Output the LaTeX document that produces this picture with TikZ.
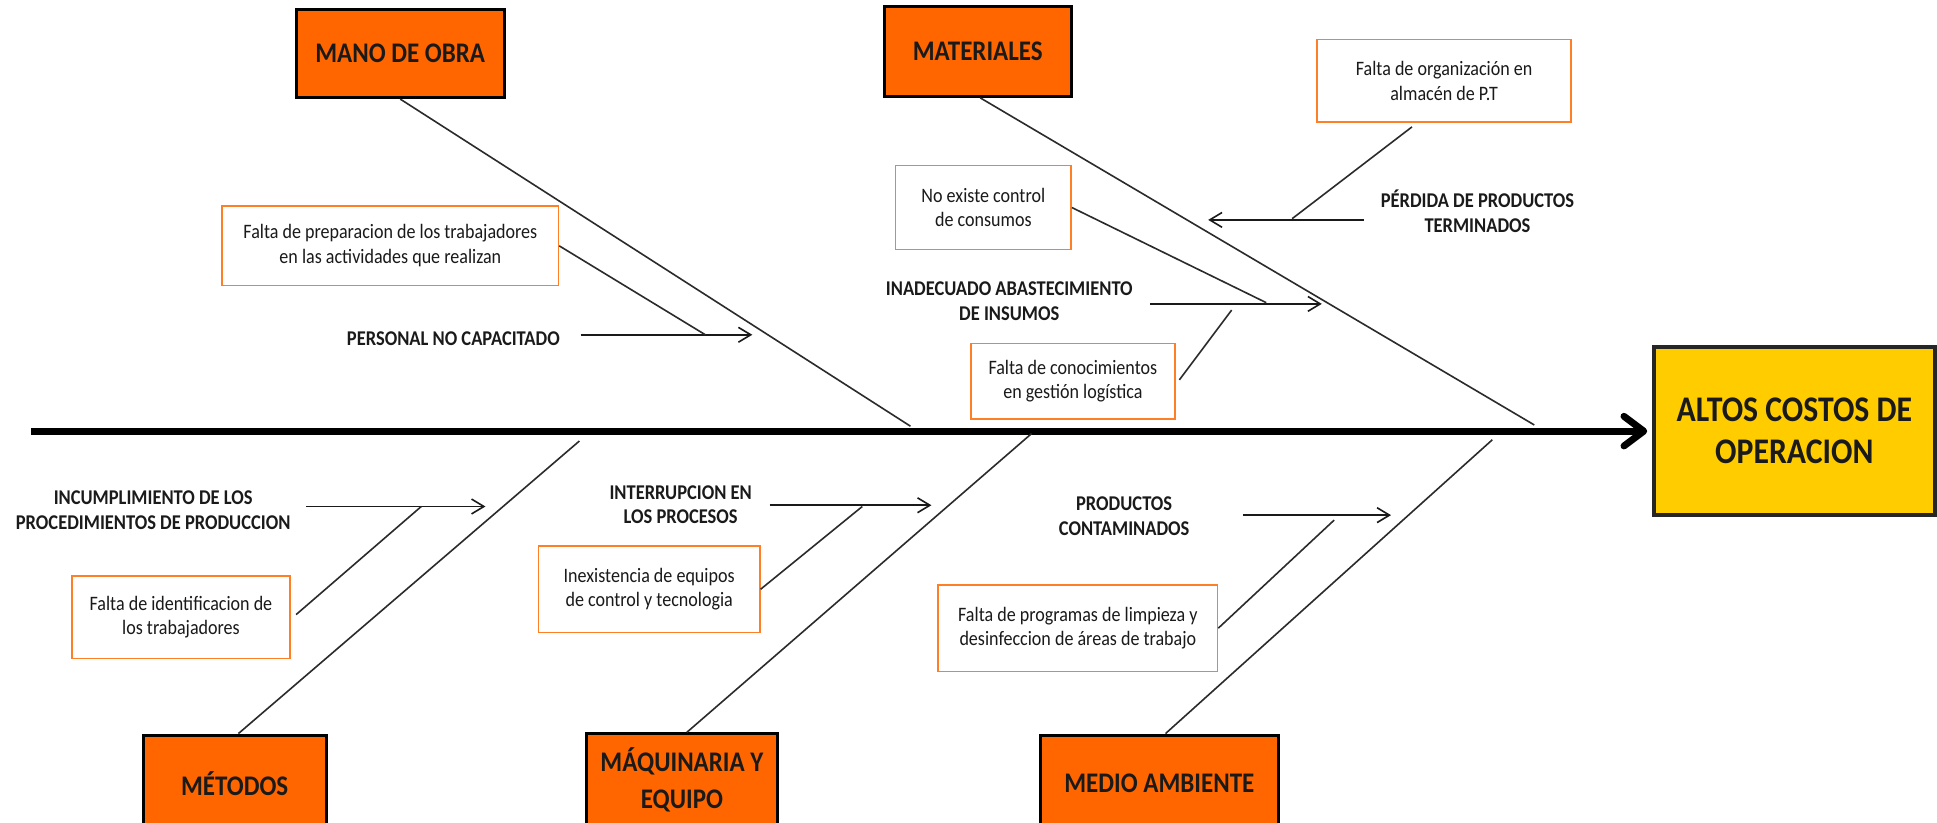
\documentclass[tikz,border=0pt]{standalone}
\usepackage{fontspec}
\setmainfont{Carlito}[FakeStretch=0.88]
\usetikzlibrary{arrows.meta,calc}
\definecolor{catorange}{HTML}{FF6600}
\definecolor{boxorange}{HTML}{FF7F27}
\definecolor{effyellow}{HTML}{FFCC00}
\definecolor{effborder}{HTML}{262626}
\definecolor{ink}{HTML}{1A1A1A}
\definecolor{boneclr}{HTML}{2B2B2B}
\begin{document}
\begin{tikzpicture}[x=0.5pt,y=-0.5pt,
  catbox/.style={draw=black,line width=1.2pt,fill=catorange,inner sep=0pt,align=center,font=\fontsize{11.5}{15}\selectfont\bfseries,text=ink},
  effbox/.style={draw=effborder,line width=1.6pt,fill=effyellow,inner sep=0pt,align=center,font=\fontsize{14.6}{17}\selectfont\bfseries,text=ink},
  causebox/.style={draw=boxorange,line width=0.7pt,fill=white,inner sep=0pt,align=center,font=\fontsize{8.3}{10}\selectfont,text=ink},
  sublabel/.style={inner sep=0pt,align=center,font=\fontsize{8.5}{10}\selectfont\bfseries,text=ink},
  bone/.style={draw=boneclr,line width=0.65pt},
  feeder/.style={draw=boneclr,line width=0.65pt},
  subarrow/.style={draw=ink,line width=0.65pt,-{Straight Barb[length=5pt,width=6pt]}},
  spine/.style={draw=black,line width=2.8pt,-{Straight Barb[length=8pt,width=12pt,line cap=round,line join=round]}}
]
\useasboundingbox (0,0) rectangle (1568,666);
\clip (0,0) rectangle (1568,666);

% effect
\node[effbox,minimum width=113.5pt,minimum height=68pt] (eff) at (1452.5,349) {ALTOS COSTOS DE\\OPERACION};

% categories
\node[catbox,minimum width=84pt,minimum height=35.5pt] (mano) at (324,43.5) {MANO DE OBRA};
\node[catbox,minimum width=75.5pt,minimum height=36.5pt] (mat) at (791.5,41.5) {MATERIALES};
\node[catbox,minimum width=74pt,minimum height=39pt] (met) at (190,634) {MÉTODOS};
\node[catbox,minimum width=77pt,minimum height=37pt] (maq) at (552,631) {MÁQUINARIA Y\\EQUIPO};
\node[catbox,minimum width=96.5pt,minimum height=39pt] (med) at (938.5,634) {MEDIO AMBIENTE};

% cause boxes
\node[causebox,minimum width=136pt,minimum height=32pt] (prep) at (316,199) {Falta de preparacion de los trabajadores\\en las actividades que realizan};
\node[causebox,minimum width=71pt,minimum height=34pt] (cons) at (796,168) {No existe control\\de consumos};
\node[causebox,minimum width=82.5pt,minimum height=30.5pt] (conoc) at (868.5,308.5) {Falta de conocimientos\\en gestión logística};
\node[causebox,minimum width=103pt,minimum height=33.5pt] (org) at (1169,65.5) {Falta de organización en\\almacén de P.T};
\node[causebox,minimum width=88.5pt,minimum height=33.5pt] (ident) at (146.5,499.5) {Falta de identificacion de\\los trabajadores};
\node[causebox,minimum width=89.5pt,minimum height=35pt] (inex) at (525.5,477) {Inexistencia de equipos\\de control y tecnologia};
\node[causebox,minimum width=113pt,minimum height=35pt] (limp) at (872.5,508.5) {Falta de programas de limpieza y\\desinfeccion de áreas de trabajo};

% sub-cause labels
\node[sublabel] (pers) at (367,274) {PERSONAL NO CAPACITADO};
\node[sublabel] (inad) at (817,244) {INADECUADO ABASTECIMIENTO\\DE INSUMOS};
\node[sublabel] (perd) at (1196,171) {PÉRDIDA DE PRODUCTOS\\TERMINADOS};
\node[sublabel] (incu) at (124,413) {INCUMPLIMIENTO DE LOS\\PROCEDIMIENTOS DE PRODUCCION};
\node[sublabel] (inte) at (551,408.5) {INTERRUPCION EN\\LOS PROCESOS};
\node[sublabel] (prod) at (910,418) {PRODUCTOS\\CONTAMINADOS};

% spine
\coordinate (spst) at (25,349);
\draw[spine,shorten >=2pt] (spst) -- (eff.west);

% bones
\coordinate (b1) at (737,345);
\coordinate (b2) at (1242,344);
\coordinate (b3) at (469,357);
\coordinate (b4) at (835,351);
\coordinate (b5) at (1208,356);
\draw[bone] (mano.south) -- (b1);
\draw[bone] ($(mat.south)+(2,0)$) -- (b2);
\draw[bone] ($(met.north)+(3,0)$) -- (b3);
\draw[bone] ($(maq.north)+(4,0)$) -- (b4);
\draw[bone] ($(med.north)+(5,0)$) -- (b5);

% sub-cause arrows
\coordinate (a1s) at (470,271);  \coordinate (a1e) at (609,271);
\coordinate (a2s) at (931,246);  \coordinate (a2e) at (1070,246);
\coordinate (a3s) at (1104,178); \coordinate (a3e) at (978,178);
\coordinate (a4s) at (248,410);  \coordinate (a4e) at (393,410);
\coordinate (a5s) at (623,409);  \coordinate (a5e) at (754,409);
\coordinate (a6s) at (1006,417); \coordinate (a6e) at (1126,417);
\draw[subarrow] (a1s) -- (a1e);
\draw[subarrow] (a2s) -- (a2e);
\draw[subarrow] (a3s) -- (a3e);
\draw[subarrow] (a4s) -- (a4e);
\draw[subarrow] (a5s) -- (a5e);
\draw[subarrow] (a6s) -- (a6e);

% feeders
\coordinate (f1) at (571,271);
\coordinate (f2) at (1025,245);
\coordinate (f3) at (997,251);
\coordinate (f4) at (1046,177);
\coordinate (f5) at (341,410);
\coordinate (f6) at (698,410);
\coordinate (f7) at (1080,421);
\draw[feeder] (prep.east) -- (f1);
\draw[feeder] (cons.east) -- (f2);
\draw[feeder] ($(conoc.east)+(3,-1)$) -- (f3);
\draw[feeder] ($(org.south)+(-26,3)$) -- (f4);
\draw[feeder] ($(ident.east)+(4,-2)$) -- (f5);
\draw[feeder] (inex.east) -- (f6);
\draw[feeder] (limp.east) -- (f7);
\end{tikzpicture}
\end{document}
